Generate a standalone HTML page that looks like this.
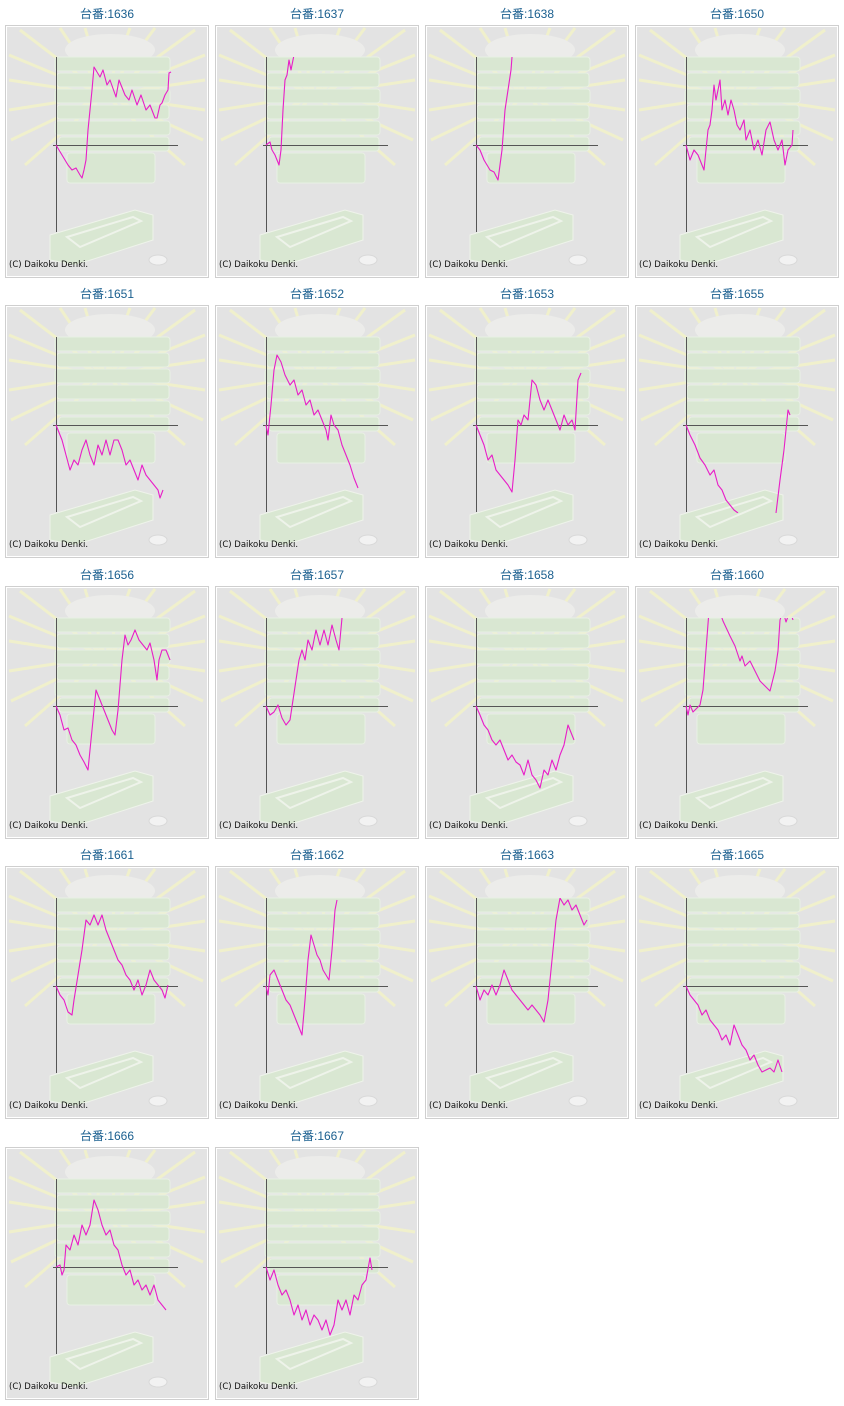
<!DOCTYPE html>
<html><head><meta charset="utf-8"><style>
html,body{margin:0;padding:0;background:#fff;width:844px;height:1406px;overflow:hidden}
svg{display:block}
.t{font-family:"Liberation Sans","Noto Sans CJK JP",sans-serif;font-size:12px;fill:#1a5f8f}
.c{font-family:"DejaVu Sans","Liberation Sans",sans-serif;font-size:8.5px;fill:#111}
.l{fill:none;stroke:#e81ec8;stroke-width:1.1;stroke-linejoin:round}
</style></head><body>
<svg width="844" height="1406" viewBox="0 0 844 1406" xmlns="http://www.w3.org/2000/svg">
<defs>
<clipPath id="cp"><rect x="-5" y="-88" width="130" height="176"/></clipPath>
<g id="bg">
<rect x="0.5" y="0.5" width="203" height="252" fill="#fff" stroke="#cfcfcf"/>
<rect x="2" y="2" width="200" height="249" fill="#e3e3e3"/>
<g stroke="#f0f0cc" stroke-width="3">
<line x1="100" y1="70" x2="4" y2="30"/><line x1="100" y1="70" x2="4" y2="55"/>
<line x1="100" y1="70" x2="4" y2="85"/><line x1="100" y1="70" x2="6" y2="115"/>
<line x1="100" y1="70" x2="20" y2="140"/><line x1="100" y1="70" x2="200" y2="30"/>
<line x1="100" y1="70" x2="200" y2="55"/><line x1="100" y1="70" x2="200" y2="85"/>
<line x1="100" y1="70" x2="198" y2="115"/><line x1="100" y1="70" x2="180" y2="140"/>
<line x1="100" y1="70" x2="55" y2="3"/><line x1="100" y1="70" x2="80" y2="3"/>
<line x1="100" y1="70" x2="125" y2="3"/><line x1="100" y1="70" x2="150" y2="3"/>
<line x1="100" y1="70" x2="15" y2="5"/><line x1="100" y1="70" x2="190" y2="5"/>
</g>
<ellipse cx="105" cy="25" rx="45" ry="16" fill="#ececea"/>
<g fill="#d9e7d2" stroke="#e8f0e4" stroke-width="1">
<rect x="50" y="32" width="115" height="14" rx="3"/>
<rect x="52" y="48" width="112" height="14" rx="3"/>
<rect x="50" y="64" width="115" height="14" rx="3"/>
<rect x="52" y="80" width="112" height="14" rx="3"/>
<rect x="50" y="96" width="115" height="14" rx="3"/>
<rect x="54" y="112" width="110" height="14" rx="3"/>
<rect x="62" y="128" width="88" height="30" rx="3"/>
</g>
<polygon points="45,210 130,185 148,190 148,215 70,240 45,235" fill="#d9e7d2" stroke="#eef3ea"/>
<polygon points="62,212 128,192 136,196 75,222" fill="none" stroke="#eef3ea" stroke-width="2"/>
<ellipse cx="153" cy="235" rx="9" ry="5" fill="#f2f2f2" stroke="#d8d8d8"/>
<text class="c" x="4" y="242">(C) Daikoku Denki.</text>
</g>
<g id="ax" stroke="#555" stroke-width="1">
<line x1="51.5" y1="32" x2="51.5" y2="207"/><line x1="48" y1="120.5" x2="173" y2="120.5"/>
</g>
</defs>

<g transform="translate(5,25)"><use href="#bg"/><use href="#ax"/><g transform="translate(51,120)" clip-path="url(#cp)"><polyline class="l" points="0,0 6,10 12,20 16,25 20,23 24,30 26,33 28,25 30,15 32,-15 36,-55 38,-78 41,-73 44,-68 47,-75 51,-60 54,-65 60,-48 63,-65 69,-50 73,-45 76,-55 81,-40 85,-50 90,-35 94,-40 99,-27 101,-27 104,-40 106,-42 109,-50 112,-55 113,-72 115,-73"/></g></g>
<text class="t" x="107" y="18" text-anchor="middle">台番:1636</text>
<g transform="translate(215,25)"><use href="#bg"/><use href="#ax"/><g transform="translate(51,120)" clip-path="url(#cp)"><polyline class="l" points="0,0 4,-3 6,5 9,10 13,20 15,5 17,-35 19,-65 21,-70 23,-85 25,-75 27,-85 28,-90"/></g></g>
<text class="t" x="317" y="18" text-anchor="middle">台番:1637</text>
<g transform="translate(425,25)"><use href="#bg"/><use href="#ax"/><g transform="translate(51,120)" clip-path="url(#cp)"><polyline class="l" points="0,0 4,5 8,15 14,25 18,27 22,35 26,5 29,-35 32,-55 35,-75 36,-88"/></g></g>
<text class="t" x="527" y="18" text-anchor="middle">台番:1638</text>
<g transform="translate(635,25)"><use href="#bg"/><use href="#ax"/><g transform="translate(51,120)" clip-path="url(#cp)"><polyline class="l" points="0,0 4,15 8,5 12,10 16,20 18,25 20,5 22,-15 24,-20 26,-35 28,-60 30,-45 32,-55 34,-65 36,-35 39,-45 42,-30 45,-45 48,-35 51,-20 54,-15 58,-25 60,-5 64,-15 68,5 72,-5 76,10 80,-15 84,-23 88,-5 92,5 96,-5 99,20 102,5 106,0 107,-15"/></g></g>
<text class="t" x="737" y="18" text-anchor="middle">台番:1650</text>

<g transform="translate(5,305)"><use href="#bg"/><use href="#ax"/><g transform="translate(51,120)" clip-path="url(#cp)"><polyline class="l" points="0,0 6,15 10,30 14,45 18,35 22,40 26,25 30,15 34,30 38,40 42,20 46,30 50,15 54,30 58,15 62,15 66,25 70,40 74,35 78,45 82,55 86,40 90,50 94,55 98,60 102,65 104,73 107,65"/></g></g>
<text class="t" x="107" y="298" text-anchor="middle">台番:1651</text>
<g transform="translate(215,305)"><use href="#bg"/><use href="#ax"/><g transform="translate(51,120)" clip-path="url(#cp)"><polyline class="l" points="0,0 2,10 5,-20 8,-55 11,-70 15,-63 19,-50 24,-40 28,-45 32,-30 36,-35 40,-20 44,-25 48,-10 52,-15 56,-5 60,5 62,15 65,-10 68,0 72,5 76,20 80,30 84,40 88,53 92,63"/></g></g>
<text class="t" x="317" y="298" text-anchor="middle">台番:1652</text>
<g transform="translate(425,305)"><use href="#bg"/><use href="#ax"/><g transform="translate(51,120)" clip-path="url(#cp)"><polyline class="l" points="0,0 4,10 8,20 12,35 16,30 20,45 24,50 28,55 32,60 36,67 39,35 42,-5 45,0 48,-10 52,-5 56,-45 60,-40 64,-25 68,-15 72,-25 76,-15 80,-5 84,5 88,-10 92,0 96,-5 99,5 102,-45 105,-52"/></g></g>
<text class="t" x="527" y="298" text-anchor="middle">台番:1653</text>
<g transform="translate(635,305)"><use href="#bg"/><use href="#ax"/><g transform="translate(51,120)" clip-path="url(#cp)"><polyline class="l" points="0,0 4,10 9,20 14,33 19,40 24,50 28,45 32,60 36,65 40,75 44,80 48,85 52,88"/><polyline class="l" points="90,88 94,55 98,25 101,-5 102,-15 104,-10"/></g></g>
<text class="t" x="737" y="298" text-anchor="middle">台番:1655</text>

<g transform="translate(5,586)"><use href="#bg"/><use href="#ax"/><g transform="translate(51,120)" clip-path="url(#cp)"><polyline class="l" points="0,0 4,9 8,24 12,22 16,34 20,39 24,49 28,56 32,64 36,24 40,-16 44,-6 48,4 52,14 56,24 59,29 62,4 66,-46 69,-71 72,-61 75,-66 79,-76 83,-66 87,-61 91,-56 94,-63 98,-46 101,-26 103,-46 106,-56 110,-56 114,-46"/></g></g>
<text class="t" x="107" y="579" text-anchor="middle">台番:1656</text>
<g transform="translate(215,586)"><use href="#bg"/><use href="#ax"/><g transform="translate(51,120)" clip-path="url(#cp)"><polyline class="l" points="0,0 4,9 8,6 12,-1 16,12 20,19 24,14 27,-6 30,-26 33,-46 36,-56 39,-46 42,-66 46,-56 50,-76 54,-61 58,-76 62,-61 66,-81 70,-66 73,-56 76,-88"/></g></g>
<text class="t" x="317" y="579" text-anchor="middle">台番:1657</text>
<g transform="translate(425,586)"><use href="#bg"/><use href="#ax"/><g transform="translate(51,120)" clip-path="url(#cp)"><polyline class="l" points="0,0 4,9 8,19 12,24 16,34 20,39 24,34 28,44 32,54 36,49 40,56 44,59 48,69 52,54 56,69 60,74 64,82 68,64 72,69 76,54 80,64 84,49 88,39 92,19 96,29 98,34"/></g></g>
<text class="t" x="527" y="579" text-anchor="middle">台番:1658</text>
<g transform="translate(635,586)"><use href="#bg"/><use href="#ax"/><g transform="translate(51,120)" clip-path="url(#cp)"><polyline class="l" points="0,0 2,9 4,-1 7,6 11,2 14,-1 17,-16 20,-56 23,-95 30,-105 37,-85 44,-70 49,-60 54,-45 56,-50 59,-40 64,-45 69,-35 74,-25 79,-20 84,-15 89,-35 92,-55 94,-86 97,-95 100,-84 104,-95 107,-86"/></g></g>
<text class="t" x="737" y="579" text-anchor="middle">台番:1660</text>

<g transform="translate(5,866)"><use href="#bg"/><use href="#ax"/><g transform="translate(51,120)" clip-path="url(#cp)"><polyline class="l" points="0,0 4,9 8,14 12,26 16,29 18,14 22,-11 26,-36 30,-66 34,-61 38,-71 42,-61 46,-71 50,-56 54,-46 58,-36 62,-26 66,-21 70,-11 74,-6 78,4 82,-6 86,9 90,-1 94,-16 98,-6 102,-1 106,4 109,12 112,-1"/></g></g>
<text class="t" x="107" y="859" text-anchor="middle">台番:1661</text>
<g transform="translate(215,866)"><use href="#bg"/><use href="#ax"/><g transform="translate(51,120)" clip-path="url(#cp)"><polyline class="l" points="0,0 2,9 4,-11 8,-16 12,-6 16,4 20,14 24,19 28,29 32,39 36,49 39,14 42,-26 45,-51 48,-41 51,-31 54,-26 57,-16 60,-11 63,-6 66,-36 69,-76 71,-86"/></g></g>
<text class="t" x="317" y="859" text-anchor="middle">台番:1662</text>
<g transform="translate(425,866)"><use href="#bg"/><use href="#ax"/><g transform="translate(51,120)" clip-path="url(#cp)"><polyline class="l" points="0,0 4,14 8,4 12,9 16,-1 20,9 24,-1 28,-16 32,-6 36,4 40,9 44,14 48,19 52,24 56,19 60,24 64,29 68,36 72,14 76,-26 80,-66 84,-88 88,-81 92,-86 96,-76 100,-81 104,-71 108,-61 111,-66"/></g></g>
<text class="t" x="527" y="859" text-anchor="middle">台番:1663</text>
<g transform="translate(635,866)"><use href="#bg"/><use href="#ax"/><g transform="translate(51,120)" clip-path="url(#cp)"><polyline class="l" points="0,0 4,9 8,14 12,19 16,29 20,24 24,34 28,39 32,44 36,54 40,49 44,59 48,39 52,49 56,59 60,64 64,74 68,69 72,79 76,86 80,84 84,82 88,86 92,74 96,86"/></g></g>
<text class="t" x="737" y="859" text-anchor="middle">台番:1665</text>

<g transform="translate(5,1147)"><use href="#bg"/><use href="#ax"/><g transform="translate(51,120)" clip-path="url(#cp)"><polyline class="l" points="0,0 4,-2 6,8 8,3 10,-22 14,-17 18,-32 22,-22 26,-42 30,-32 34,-42 38,-67 42,-57 46,-42 50,-32 54,-37 58,-22 62,-17 66,-2 70,8 74,3 78,18 82,13 86,23 90,18 94,28 98,18 102,33 106,38 110,43"/></g></g>
<text class="t" x="107" y="1140" text-anchor="middle">台番:1666</text>
<g transform="translate(215,1147)"><use href="#bg"/><use href="#ax"/><g transform="translate(51,120)" clip-path="url(#cp)"><polyline class="l" points="0,0 4,13 8,3 12,18 16,28 20,23 24,33 28,48 32,38 36,53 40,43 44,58 48,48 52,53 56,63 60,53 64,68 68,58 72,33 76,43 80,33 84,48 88,28 92,33 96,18 100,13 104,-9 106,3"/></g></g>
<text class="t" x="317" y="1140" text-anchor="middle">台番:1667</text>
</svg>
</body></html>
